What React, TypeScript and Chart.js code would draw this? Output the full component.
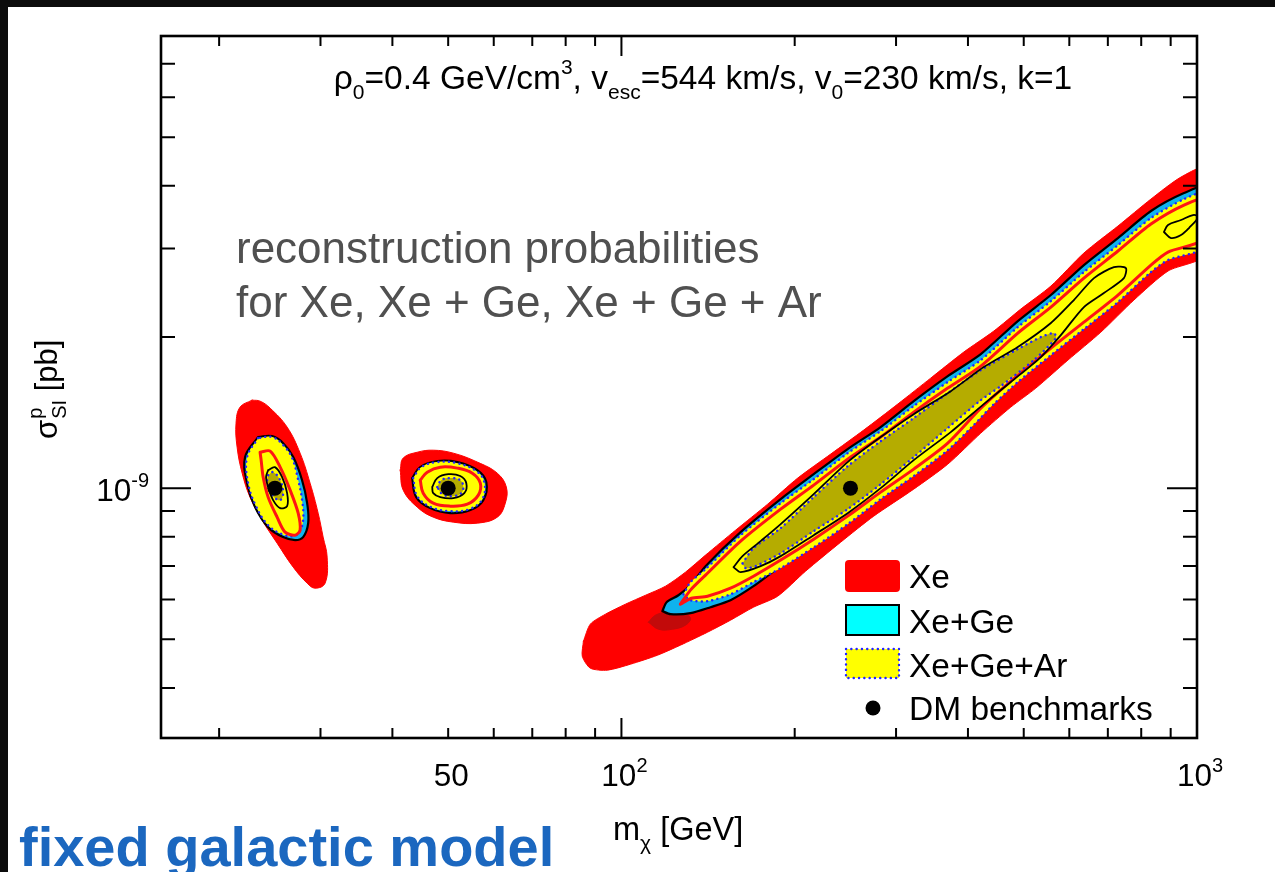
import React, { useEffect, useRef } from 'react';
import { Chart, registerables } from 'chart.js';
Chart.register(...registerables);

type P = [number, number];

// ---------- axes ----------
const X_MIN = 15.85;
const X_MAX = 1000;
const Y_MIN = 3.18e-10;
const Y_MAX = 7.95e-9;
const X_MINOR_TICKS = [20, 30, 40, 50, 60, 70, 80, 90, 200, 300, 400, 500, 600, 700, 800, 900];
const X_MAJOR_TICKS = [100, 1000];
const X_TICK_LABELS: [number, string, string][] = [[50, '50', ''], [100, '10', '2'], [1000, '10', '3']];
const Y_MINOR_TICKS = [4e-10, 5e-10, 6e-10, 7e-10, 8e-10, 9e-10, 2e-9, 3e-9, 4e-9, 5e-9, 6e-9, 7e-9];
const Y_MAJOR_TICKS = [1e-9];
const Y_TICK_LABELS: [number, string, string][] = [[1e-9, '10', '-9']];

// ---------- benchmarks ----------
const BENCH_MASS = [25, 50, 250];
const BENCH_SIGMA = [1e-9, 1e-9, 1e-9];

// ---------- benchmark 250 GeV (band) ----------
const XE_BAND: P[] = [
  [85.9, 0.4957e-9], [88.3, 0.536e-9], [93.8, 0.561e-9], [101.6, 0.5873e-9], [110.1, 0.6119e-9],
  [119.3, 0.6379e-9], [129.2, 0.6803e-9], [140.0, 0.7356e-9], [157.9, 0.8247e-9], [179.5, 0.9292e-9],
  [202.4, 1.047e-9], [231.0, 1.169e-9], [263.6, 1.305e-9], [302.0, 1.47e-9], [344.6, 1.656e-9],
  [393.3, 1.866e-9], [443.6, 2.055e-9], [494.2, 2.273e-9], [557.4, 2.526e-9], [636.1, 2.939e-9],
  [728.9, 3.326e-9], [831.8, 3.764e-9], [938.1, 4.164e-9], [1037, 4.34e-9],
  [1037, 2.925e-9], [890.5, 2.706e-9], [777.0, 2.369e-9], [680.8, 2.045e-9], [596.8, 1.799e-9],
  [524.8, 1.582e-9], [474.8, 1.45e-9], [421.1, 1.287e-9], [368.9, 1.116e-9], [322.0, 0.9954e-9],
  [274.4, 0.8795e-9], [240.4, 0.7805e-9], [208.9, 0.6834e-9], [186.8, 0.6092e-9], [169.6, 0.5793e-9],
  [154.7, 0.5458e-9], [141.1, 0.5165e-9], [126.6, 0.4867e-9], [115.5, 0.4648e-9], [103.7, 0.4461e-9],
  [94.5, 0.434e-9], [88.3, 0.438e-9], [85.5, 0.4627e-9],
];
const XE_BAND_SHADE: P[] = [
  [111.4, 0.5409e-9], [114.6, 0.5585e-9], [120.7, 0.5662e-9], [127.7, 0.5636e-9],
  [131.8, 0.5509e-9], [129.2, 0.5335e-9], [122.6, 0.5236e-9], [116.0, 0.5236e-9],
];
const XEGE_BAND: P[] = [
  [117.8, 0.5689e-9], [119.8, 0.5928e-9], [125.6, 0.6119e-9], [131.8, 0.641e-9], [140.0, 0.6993e-9],
  [161.1, 0.8173e-9], [189.1, 0.9508e-9], [215.8, 1.066e-9], [247.2, 1.196e-9], [282.1, 1.323e-9],
  [322.0, 1.49e-9], [368.9, 1.671e-9], [421.1, 1.849e-9], [488.3, 2.151e-9], [557.4, 2.424e-9],
  [636.1, 2.781e-9], [728.9, 3.148e-9], [831.8, 3.563e-9], [949.3, 3.869e-9], [1037, 3.977e-9],
  [1037, 3.076e-9], [890.5, 2.885e-9], [831.8, 2.719e-9], [728.9, 2.369e-9], [636.1, 2.093e-9],
  [557.4, 1.858e-9], [488.3, 1.641e-9], [443.6, 1.483e-9], [404.6, 1.329e-9], [368.9, 1.201e-9],
  [322.0, 1.066e-9], [282.1, 0.9596e-9], [247.2, 0.8556e-9], [215.8, 0.77e-9], [189.1, 0.6993e-9],
  [169.6, 0.6379e-9], [154.7, 0.5981e-9], [142.8, 0.5793e-9], [131.8, 0.5636e-9], [121.7, 0.561e-9],
];
const XEGEAR_BAND: P[] = [
  [128.2, 0.6146e-9], [131.8, 0.6498e-9], [140.0, 0.6897e-9], [161.1, 0.806e-9], [189.1, 0.9335e-9],
  [215.8, 1.042e-9], [247.2, 1.174e-9], [282.1, 1.299e-9], [322.0, 1.457e-9], [368.9, 1.627e-9],
  [421.1, 1.799e-9], [488.3, 2.093e-9], [557.4, 2.358e-9], [636.1, 2.694e-9], [728.9, 3.048e-9],
  [831.8, 3.451e-9], [949.3, 3.764e-9], [1037, 3.869e-9],
  [1037, 3.034e-9], [890.5, 2.846e-9], [831.8, 2.694e-9], [728.9, 2.347e-9], [636.1, 2.074e-9],
  [557.4, 1.84e-9], [488.3, 1.627e-9], [443.6, 1.47e-9], [404.6, 1.317e-9], [368.9, 1.19e-9],
  [322.0, 1.057e-9], [282.1, 0.9508e-9], [247.2, 0.8478e-9], [215.8, 0.7625e-9], [189.1, 0.6929e-9],
  [169.6, 0.6498e-9], [154.7, 0.6146e-9], [141.1, 0.5954e-9], [131.8, 0.5981e-9],
];
const XE1_BAND: P[] = [
  [126.6, 0.5873e-9], [131.8, 0.6265e-9], [140.0, 0.671e-9], [161.1, 0.7842e-9], [189.1, 0.9081e-9],
  [215.8, 1.014e-9], [247.2, 1.142e-9], [282.1, 1.264e-9], [322.0, 1.417e-9], [368.9, 1.582e-9],
  [421.1, 1.75e-9], [488.3, 2.036e-9], [557.4, 2.294e-9], [636.1, 2.62e-9], [728.9, 2.966e-9],
  [831.8, 3.357e-9], [949.3, 3.662e-9], [1037, 3.764e-9],
  [1037, 3.148e-9], [890.5, 2.952e-9], [831.8, 2.781e-9], [728.9, 2.424e-9], [636.1, 2.141e-9],
  [557.4, 1.9e-9], [488.3, 1.679e-9], [421.1, 1.443e-9], [368.9, 1.229e-9], [322.0, 1.091e-9],
  [282.1, 0.9818e-9], [247.2, 0.8795e-9], [215.8, 0.7915e-9], [189.1, 0.719e-9], [169.6, 0.6678e-9],
  [154.7, 0.6321e-9], [141.1, 0.6092e-9], [132.3, 0.6037e-9],
];
const XEGEAR1_BAND: P[] = [
  [162.3, 0.7087e-9], [169.6, 0.7594e-9], [189.1, 0.8325e-9], [215.8, 0.9596e-9], [247.2, 1.106e-9],
  [282.1, 1.24e-9], [322.0, 1.379e-9], [368.9, 1.546e-9], [421.1, 1.718e-9], [488.3, 1.892e-9],
  [535.5, 1.999e-9], [564.1, 2.036e-9],
  [568.6, 1.99e-9], [520.6, 1.799e-9], [456.1, 1.597e-9], [421.1, 1.497e-9], [368.9, 1.317e-9],
  [322.0, 1.153e-9], [282.1, 1.018e-9], [247.2, 0.9081e-9], [215.8, 0.821e-9], [189.1, 0.742e-9],
  [171.0, 0.6993e-9], [164.3, 0.6929e-9],
];
const XEGE1_BAND: P[] = [
  [156.6, 0.6961e-9], [162.3, 0.7322e-9], [174.5, 0.7842e-9], [189.1, 0.8479e-9], [215.8, 0.9728e-9],
  [247.2, 1.127e-9], [282.1, 1.264e-9], [322.0, 1.404e-9], [373.4, 1.56e-9], [426.1, 1.742e-9],
  [488.3, 1.91e-9], [557.4, 2.132e-9], [611.1, 2.369e-9], [662.2, 2.62e-9], [717.3, 2.755e-9],
  [752.4, 2.743e-9],
  [746.4, 2.62e-9], [689.0, 2.446e-9], [636.1, 2.294e-9], [580.0, 2.017e-9], [535.5, 1.824e-9],
  [474.8, 1.627e-9], [426.1, 1.47e-9], [373.4, 1.293e-9], [322.0, 1.137e-9], [282.1, 1.0e-9],
  [247.2, 0.8916e-9], [215.8, 0.806e-9], [189.1, 0.7322e-9], [174.5, 0.6993e-9], [161.1, 0.6803e-9],
];
const XEGE1_BAND_ISLAND: P[] = [
  [876.2, 3.236e-9], [890.5, 3.342e-9], [938.1, 3.419e-9], [984.0, 3.498e-9], [1005, 3.47e-9],
  [968.5, 3.296e-9], [938.1, 3.192e-9], [901.2, 3.148e-9],
];

// ---------- benchmark 25 GeV ----------
const XE_25: P[] = [
  [22.82, 1.497e-9], [21.75, 1.45e-9], [21.4, 1.347e-9], [21.49, 1.207e-9], [21.93, 1.071e-9],
  [22.63, 0.9596e-9], [23.75, 0.8635e-9], [25.22, 0.777e-9], [26.9, 0.6961e-9], [28.44, 0.6468e-9],
  [29.36, 0.6321e-9], [30.56, 0.6468e-9], [30.81, 0.7288e-9], [30.32, 0.7989e-9], [29.72, 0.8916e-9],
  [28.78, 1.023e-9], [27.65, 1.174e-9], [26.25, 1.323e-9], [24.53, 1.443e-9], [23.56, 1.49e-9],
];
const XEGE_25: P[] = [
  [23.37, 1.264e-9], [22.19, 1.153e-9], [22.37, 1.023e-9], [23.09, 0.9166e-9], [24.33, 0.8363e-9],
  [25.84, 0.7989e-9], [27.1, 0.788e-9], [27.99, 0.7989e-9], [28.56, 0.8517e-9], [28.44, 0.9335e-9],
  [27.87, 1.037e-9], [26.9, 1.153e-9], [25.84, 1.229e-9], [24.72, 1.269e-9],
];
const XEGEAR_25: P[] = [
  [23.37, 1.258e-9], [22.37, 1.153e-9], [22.46, 1.023e-9], [23.18, 0.9207e-9], [24.33, 0.8438e-9],
  [25.73, 0.8097e-9], [26.9, 0.8023e-9], [27.54, 0.8173e-9], [27.99, 0.8635e-9], [27.87, 0.9465e-9],
  [27.44, 1.037e-9], [26.78, 1.148e-9], [25.84, 1.218e-9], [24.72, 1.264e-9],
];
const XE1_25: P[] = [
  [23.56, 1.179e-9], [24.53, 1.185e-9], [25.53, 1.101e-9], [26.57, 0.9909e-9], [27.44, 0.8916e-9],
  [27.65, 0.8247e-9], [27.1, 0.806e-9], [26.04, 0.8173e-9], [25.22, 0.8754e-9], [24.33, 0.9596e-9],
  [23.85, 1.052e-9], [23.66, 1.137e-9],
];
const XEGE1_25: P[] = [
  [24.33, 1.086e-9], [25.0, 1.101e-9], [25.73, 1.052e-9], [26.25, 0.9773e-9], [26.25, 0.9207e-9],
  [25.53, 0.9124e-9], [24.82, 0.9465e-9], [24.33, 1.005e-9], [24.13, 1.052e-9],
];
const XEGEAR1_25: P[] = [
  [24.33, 1.061e-9], [24.82, 1.076e-9], [25.53, 1.037e-9], [25.84, 0.9773e-9], [25.53, 0.9465e-9],
  [24.92, 0.9596e-9], [24.53, 0.9909e-9], [24.23, 1.028e-9],
];

// ---------- benchmark 50 GeV ----------
const XE_50: P[] = [
  [41.27, 1.086e-9], [41.77, 1.148e-9], [44.18, 1.179e-9], [47.1, 1.19e-9], [51.04, 1.174e-9],
  [56.18, 1.127e-9], [60.85, 1.071e-9], [63.1, 1.005e-9], [62.84, 0.9335e-9], [60.85, 0.8754e-9],
  [56.18, 0.8517e-9], [51.04, 0.8556e-9], [47.1, 0.8754e-9], [44.18, 0.9166e-9], [41.77, 0.9909e-9],
];
const XEGE_50: P[] = [
  [43.29, 1.047e-9], [44.71, 1.101e-9], [47.86, 1.132e-9], [51.86, 1.127e-9], [56.18, 1.086e-9],
  [58.24, 1.028e-9], [57.54, 0.9465e-9], [54.63, 0.9042e-9], [50.43, 0.8916e-9], [46.54, 0.9124e-9],
  [44.0, 0.9596e-9],
];
const XEGEAR_50: P[] = [
  [43.47, 1.047e-9], [44.89, 1.101e-9], [47.86, 1.127e-9], [51.86, 1.121e-9], [55.96, 1.081e-9],
  [57.77, 1.028e-9], [57.32, 0.9508e-9], [54.41, 0.9081e-9], [50.43, 0.9e-9], [46.72, 0.9166e-9],
  [44.18, 0.964e-9],
];
const XE1_50: P[] = [
  [44.71, 1.037e-9], [45.98, 1.076e-9], [48.44, 1.101e-9], [51.86, 1.096e-9], [55.07, 1.071e-9],
  [56.86, 1.023e-9], [56.41, 0.9684e-9], [53.98, 0.9292e-9], [50.43, 0.9207e-9], [47.1, 0.9335e-9],
  [45.25, 0.9773e-9],
];
const XEGE1_50: P[] = [
  [46.91, 1.005e-9], [47.86, 1.047e-9], [50.03, 1.066e-9], [52.48, 1.057e-9], [53.76, 1.023e-9],
  [53.33, 0.9773e-9], [51.04, 0.9552e-9], [48.44, 0.9596e-9], [47.1, 0.9773e-9],
];
const XEGEAR1_50: P[] = [
  [47.86, 1.005e-9], [48.64, 1.037e-9], [50.43, 1.047e-9], [52.48, 1.037e-9], [53.12, 1.005e-9],
  [52.69, 0.9773e-9], [50.83, 0.964e-9], [48.83, 0.9728e-9],
];

// ---------- texts ----------
const LEGEND_LABELS = ['Xe', 'Xe+Ge', 'Xe+Ge+Ar', 'DM benchmarks'];
const NOTE_LINES = ['reconstruction probabilities', 'for Xe, Xe + Ge, Xe + Ge + Ar'];
const CAPTION = 'fixed galactic model';

// ---------- styles ----------
const FONT = '"Liberation Sans", Arial, Helvetica, sans-serif';
const RED = '#ff0000';
const SHADE = '#c20a0a';
const CYAN = '#0fb3ee';
const YELLOW = '#ffff00';
const OLIVE = '#b5ac00';
const BLUE = '#2424ff';
const DOTS = [0.1, 5.2];

type Style = { fill?: string; stroke?: string; width?: number; dash?: number[]; tension?: number };

function poly(pts: P[], s: Style) {
  const closed = [...pts, pts[0]];
  return {
    type: 'line' as const,
    data: closed.map(([x, y]) => ({ x, y })),
    fill: s.fill ? 'shape' : false,
    backgroundColor: s.fill || 'transparent',
    borderColor: s.stroke || s.fill || 'transparent',
    borderWidth: s.width ?? 1,
    borderDash: s.dash || [],
    borderCapStyle: 'round' as const,
    borderJoinStyle: 'round' as const,
    pointRadius: 0,
    pointHoverRadius: 0,
    tension: s.tension ?? 0.3,
    clip: 0,
  };
}

type Part = [string, number]; // 0 normal, 1 sup, -1 sub

function drawRich(ctx: CanvasRenderingContext2D, parts: Part[], x: number, y: number, size: number, align: 'left' | 'center' | 'right') {
  const small = Math.round(size * 0.64);
  let w = 0;
  for (const [t, k] of parts) {
    ctx.font = `${k ? small : size}px ${FONT}`;
    w += ctx.measureText(t).width;
  }
  let cx = align === 'left' ? x : align === 'center' ? x - w / 2 : x - w;
  ctx.textAlign = 'left';
  ctx.textBaseline = 'alphabetic';
  for (const [t, k] of parts) {
    ctx.font = `${k ? small : size}px ${FONT}`;
    const dy = k === 1 ? -size * 0.45 : k === -1 ? size * 0.3 : 0;
    ctx.fillText(t, cx, y + dy);
    cx += ctx.measureText(t).width;
  }
}

const decorPlugin = {
  id: 'decor',
  beforeDraw(chart: any) {
    const ctx = chart.ctx as CanvasRenderingContext2D;
    ctx.save();
    ctx.fillStyle = '#0c0c0c';
    ctx.fillRect(0, 0, chart.width, chart.height);
    ctx.fillStyle = '#ffffff';
    ctx.fillRect(8, 7, chart.width - 8, chart.height - 7);
    ctx.restore();
  },
  afterDraw(chart: any) {
    const ctx = chart.ctx as CanvasRenderingContext2D;
    const xs = chart.scales.x;
    const ys = chart.scales.y;
    const { left, right, top, bottom } = chart.chartArea;
    ctx.save();
    ctx.fillStyle = '#000';
    ctx.strokeStyle = '#000';

    // ticks (inward, mirrored)
    ctx.lineWidth = 2;
    ctx.lineCap = 'butt';
    const xt = (v: number, len: number) => {
      const px = xs.getPixelForValue(v);
      ctx.beginPath();
      ctx.moveTo(px, bottom); ctx.lineTo(px, bottom - len);
      ctx.moveTo(px, top); ctx.lineTo(px, top + len);
      ctx.stroke();
    };
    X_MINOR_TICKS.forEach((v) => xt(v, 10));
    X_MAJOR_TICKS.forEach((v) => xt(v, 20));
    const yt = (v: number, len: number) => {
      const py = ys.getPixelForValue(v);
      ctx.beginPath();
      ctx.moveTo(left, py); ctx.lineTo(left + len, py);
      ctx.moveTo(right, py); ctx.lineTo(right - len, py);
      ctx.stroke();
    };
    Y_MINOR_TICKS.forEach((v) => yt(v, 14));
    Y_MAJOR_TICKS.forEach((v) => yt(v, 30));

    // frame
    ctx.lineWidth = 2.6;
    ctx.strokeRect(left, top, right - left, bottom - top);

    // tick labels
    X_TICK_LABELS.forEach(([v, base, sup]) => {
      const px = xs.getPixelForValue(v) + 3;
      const parts: Part[] = sup ? [[base, 0], [sup, 1]] : [[base, 0]];
      drawRich(ctx, parts, px, 786, 31.5, 'center');
    });
    Y_TICK_LABELS.forEach(([v, base, sup]) => {
      const py = ys.getPixelForValue(v);
      drawRich(ctx, [[base, 0], [sup, 1]], 149, py + 13, 31.5, 'right');
    });

    // axis titles
    drawRich(ctx, [['m', 0], ['\u03c7', -1], [' [GeV]', 0]], 613, 840, 32.5, 'left');
    ctx.save();
    ctx.translate(57, 439);
    ctx.rotate(-Math.PI / 2);
    ctx.font = `31px ${FONT}`;
    ctx.fillText('\u03c3', 0, 0);
    let cx = ctx.measureText('\u03c3').width + 1;
    ctx.font = `20px ${FONT}`;
    ctx.fillText('p', cx, -15);
    ctx.fillText('SI', cx, 9);
    cx += ctx.measureText('SI').width;
    ctx.font = `31px ${FONT}`;
    ctx.fillText(' [pb]', cx, 0);
    ctx.restore();

    // header
    drawRich(ctx, [
      ['\u03c1', 0], ['0', -1], ['=0.4 GeV/cm', 0], ['3', 1], [', v', 0], ['esc', -1],
      ['=544 km/s, v', 0], ['0', -1], ['=230 km/s, k=1', 0],
    ], 703, 89, 33.5, 'center');

    // note
    ctx.fillStyle = '#505050';
    ctx.font = `44px ${FONT}`;
    ctx.textAlign = 'left';
    ctx.fillText(NOTE_LINES[0], 236, 263);
    ctx.fillText(NOTE_LINES[1], 236, 317);

    // legend
    ctx.fillStyle = RED;
    ctx.beginPath();
    (ctx as any).roundRect(845, 560, 55, 32, 4);
    ctx.fill();
    ctx.fillStyle = '#00ffff';
    ctx.fillRect(846, 605, 53, 30);
    ctx.lineWidth = 2;
    ctx.strokeStyle = '#000';
    ctx.strokeRect(846, 605, 53, 30);
    ctx.fillStyle = YELLOW;
    ctx.fillRect(846, 649, 53, 29);
    ctx.save();
    ctx.strokeStyle = BLUE;
    ctx.lineWidth = 2.4;
    ctx.lineCap = 'round';
    ctx.setLineDash(DOTS);
    ctx.strokeRect(846, 649, 53, 29);
    ctx.restore();
    ctx.fillStyle = '#000';
    ctx.beginPath();
    ctx.arc(873, 708, 7.5, 0, Math.PI * 2);
    ctx.fill();
    ctx.font = `33.5px ${FONT}`;
    const lb = [588, 633, 677, 720];
    LEGEND_LABELS.forEach((t, i) => ctx.fillText(t, 909, lb[i]));

    // caption
    ctx.fillStyle = '#1b67bf';
    ctx.font = `bold 56px ${FONT}`;
    ctx.fillText(CAPTION, 19, 866);
    ctx.restore();
  },
};

export default function App() {
  const ref = useRef<HTMLCanvasElement>(null);
  useEffect(() => {
    const canvas = ref.current;
    if (!canvas) return;
    const fillRed = { fill: RED, stroke: RED, width: 1 };
    const cyan = { fill: CYAN, stroke: '#000', width: 2.2 };
    const yel = { fill: YELLOW, stroke: BLUE, width: 2.4, dash: DOTS };
    const redLine = { stroke: '#ff1414', width: 3 };
    const olive = { fill: OLIVE, stroke: BLUE, width: 2.4, dash: DOTS };
    const blackLine = { stroke: '#000', width: 1.8 };
    const layers: any[] = [
      poly(XE_BAND, { ...fillRed, tension: 0.25 }),
      poly(XE_25, { ...fillRed, tension: 0.4 }),
      poly(XE_50, { ...fillRed, tension: 0.4 }),
      poly(XE_BAND_SHADE, { fill: SHADE, stroke: SHADE, width: 1, tension: 0.4 }),
      poly(XEGE_BAND, { ...cyan, tension: 0.25 }),
      poly(XEGE_25, { ...cyan, tension: 0.4 }),
      poly(XEGE_50, { ...cyan, tension: 0.4 }),
      poly(XEGEAR_BAND, { ...yel, tension: 0.25 }),
      poly(XEGEAR_25, { ...yel, tension: 0.4 }),
      poly(XEGEAR_50, { ...yel, tension: 0.4 }),
      poly(XE1_BAND, { ...redLine, tension: 0.25 }),
      poly(XE1_25, { ...redLine, tension: 0.3 }),
      poly(XE1_50, { ...redLine, tension: 0.4 }),
      poly(XEGEAR1_BAND, { ...olive, tension: 0.25 }),
      poly(XEGEAR1_25, { ...olive, tension: 0.4 }),
      poly(XEGEAR1_50, { ...olive, tension: 0.4 }),
      poly(XEGE1_BAND, { ...blackLine, tension: 0.25 }),
      poly(XEGE1_BAND_ISLAND, { ...blackLine, tension: 0.35 }),
      poly(XEGE1_25, { ...blackLine, tension: 0.35 }),
      poly(XEGE1_50, { ...blackLine, tension: 0.4 }),
      {
        type: 'line',
        data: BENCH_MASS.map((m, i) => ({ x: m, y: BENCH_SIGMA[i] })),
        showLine: false,
        pointRadius: 7.5,
        pointHoverRadius: 7.5,
        pointBackgroundColor: '#000',
        pointBorderWidth: 0,
        clip: 0,
      },
    ];
    const n = layers.length;
    layers.forEach((d, i) => { d.order = n - i; });

    const chart = new Chart(canvas, {
      type: 'line',
      data: { datasets: layers },
      options: {
        responsive: false,
        devicePixelRatio: 1,
        animation: false,
        events: [],
        layout: { padding: { top: 36, right: 78, left: 0, bottom: 0 } },
        plugins: { legend: { display: false }, tooltip: { enabled: false } },
        scales: {
          x: {
            type: 'logarithmic',
            min: X_MIN,
            max: X_MAX,
            grid: { display: false },
            border: { display: false },
            ticks: { display: false },
            afterFit: (s: any) => { s.height = 134; },
          },
          y: {
            type: 'logarithmic',
            min: Y_MIN,
            max: Y_MAX,
            grid: { display: false },
            border: { display: false },
            ticks: { display: false },
            afterFit: (s: any) => { s.width = 161; },
          },
        },
      } as any,
      plugins: [decorPlugin],
    });
    return () => chart.destroy();
  }, []);
  return (
    <div style={{ position: 'fixed', left: 0, top: 0, width: 1275, height: 872, overflow: 'hidden' }}>
      <canvas ref={ref} width={1275} height={872} style={{ display: 'block', width: 1275, height: 872 }} />
    </div>
  );
}
